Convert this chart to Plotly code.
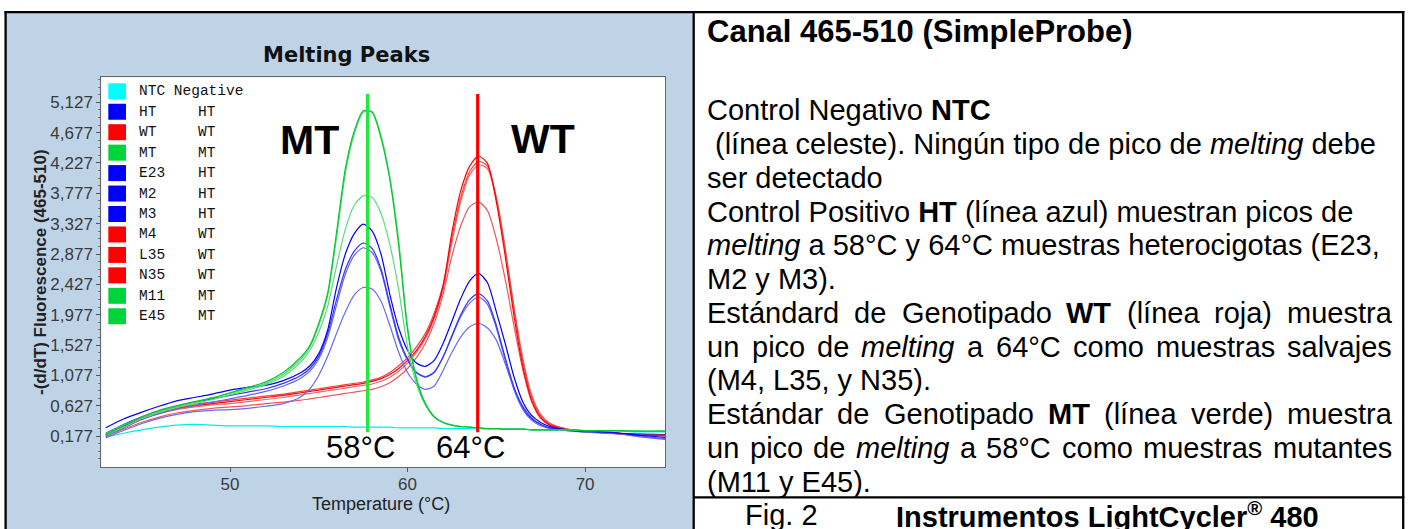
import plotly.graph_objects as go

W, H = 1408, 529

# ---------------- data ----------------
TEMPS = [43, 44, 45, 46, 47, 48, 49, 50, 51, 52, 53, 54, 54.5, 55, 55.5, 56, 56.5, 57, 57.5, 58,
         58.5, 59, 59.5, 60, 60.5, 61, 61.5, 62, 62.5, 63, 63.5, 64, 64.5, 65, 65.5, 66, 66.5, 67,
         67.5, 68, 69, 70, 71, 72, 73, 74.5]

NTC = [0.16, 0.22, 0.27, 0.31, 0.34, 0.35, 0.34, 0.33, 0.33, 0.33, 0.32, 0.32, 0.32, 0.32, 0.32, 0.32,
       0.32, 0.31, 0.31, 0.31, 0.31, 0.31, 0.30, 0.30, 0.30, 0.30, 0.30, 0.29, 0.29, 0.29, 0.29, 0.29,
       0.28, 0.28, 0.28, 0.28, 0.28, 0.27, 0.27, 0.27, 0.26, 0.26, 0.25, 0.25, 0.24, 0.24]
HT = [0.30, 0.43, 0.53, 0.62, 0.70, 0.75, 0.80, 0.86, 0.90, 0.93, 1.00, 1.12, 1.22, 1.40, 1.75, 2.38,
      2.88, 3.18, 3.32, 3.22, 2.88, 2.28, 1.78, 1.45, 1.26, 1.21, 1.30, 1.55, 1.88, 2.22, 2.48, 2.59,
      2.45, 2.02, 1.55, 1.05, 0.68, 0.48, 0.38, 0.32, 0.27, 0.25, 0.24, 0.22, 0.19, 0.16]
WT = [0.20, 0.32, 0.44, 0.53, 0.59, 0.63, 0.66, 0.69, 0.72, 0.75, 0.78, 0.82, 0.84, 0.86, 0.88, 0.90,
      0.92, 0.94, 0.96, 0.99, 1.03, 1.09, 1.18, 1.30, 1.45, 1.65, 1.95, 2.40, 3.20, 3.82, 4.18, 4.33,
      4.22, 3.65, 2.85, 1.95, 1.20, 0.70, 0.45, 0.34, 0.27, 0.24, 0.23, 0.22, 0.21, 0.20]
MT = [0.20, 0.33, 0.46, 0.56, 0.63, 0.69, 0.74, 0.82, 0.90, 0.98, 1.12, 1.35, 1.52, 1.85, 2.30, 3.20,
      4.15, 4.70, 5.00, 4.98, 4.60, 3.98, 3.00, 1.75, 1.02, 0.66, 0.46, 0.38, 0.34, 0.32, 0.31, 0.30,
      0.29, 0.29, 0.28, 0.28, 0.28, 0.27, 0.27, 0.27, 0.27, 0.26, 0.26, 0.26, 0.25, 0.25]
E23 = [0.22, 0.35, 0.46, 0.55, 0.62, 0.68, 0.73, 0.78, 0.83, 0.88, 0.96, 1.08, 1.18, 1.36, 1.70, 2.20,
       2.65, 2.92, 3.04, 2.96, 2.66, 2.14, 1.64, 1.32, 1.12, 1.05, 1.12, 1.35, 1.67, 1.98, 2.20, 2.29,
       2.18, 1.82, 1.34, 0.90, 0.60, 0.43, 0.35, 0.30, 0.27, 0.25, 0.24, 0.22, 0.20, 0.19]
M2 = [0.18, 0.30, 0.42, 0.51, 0.58, 0.63, 0.68, 0.73, 0.78, 0.84, 0.92, 1.04, 1.14, 1.32, 1.64, 2.12,
      2.58, 2.86, 2.97, 2.90, 2.62, 2.10, 1.60, 1.30, 1.12, 1.06, 1.13, 1.35, 1.65, 1.95, 2.15, 2.24,
      2.13, 1.78, 1.30, 0.86, 0.57, 0.41, 0.33, 0.29, 0.26, 0.24, 0.23, 0.21, 0.17, 0.13]
M3 = [0.15, 0.26, 0.36, 0.44, 0.50, 0.54, 0.56, 0.57, 0.59, 0.62, 0.66, 0.76, 0.88, 1.08, 1.36, 1.70,
      2.02, 2.27, 2.38, 2.36, 2.18, 1.82, 1.42, 1.12, 0.95, 0.87, 0.92, 1.15, 1.42, 1.65, 1.80, 1.85,
      1.78, 1.60, 1.25, 0.88, 0.62, 0.45, 0.35, 0.30, 0.26, 0.24, 0.23, 0.21, 0.18, 0.14]
M4 = [0.18, 0.30, 0.42, 0.52, 0.60, 0.65, 0.68, 0.71, 0.74, 0.77, 0.80, 0.84, 0.86, 0.88, 0.90, 0.92,
      0.94, 0.96, 0.98, 1.01, 1.05, 1.12, 1.22, 1.34, 1.50, 1.70, 2.00, 2.42, 3.12, 3.72, 4.10, 4.25,
      4.18, 3.72, 2.95, 2.05, 1.28, 0.75, 0.48, 0.36, 0.28, 0.25, 0.23, 0.21, 0.19, 0.18]
L35 = [0.19, 0.31, 0.43, 0.51, 0.57, 0.61, 0.64, 0.66, 0.69, 0.72, 0.75, 0.79, 0.81, 0.83, 0.85, 0.87,
       0.89, 0.91, 0.93, 0.95, 0.99, 1.05, 1.14, 1.26, 1.42, 1.62, 1.92, 2.35, 3.05, 3.66, 4.05, 4.20,
       4.14, 3.70, 2.95, 2.08, 1.32, 0.78, 0.50, 0.37, 0.28, 0.25, 0.23, 0.21, 0.20, 0.19]
N35 = [0.17, 0.28, 0.38, 0.46, 0.52, 0.56, 0.59, 0.61, 0.63, 0.66, 0.68, 0.71, 0.73, 0.75, 0.77, 0.79,
       0.81, 0.83, 0.85, 0.87, 0.91, 0.97, 1.06, 1.18, 1.34, 1.55, 1.85, 2.28, 2.85, 3.30, 3.58, 3.65,
       3.52, 3.10, 2.50, 1.80, 1.15, 0.68, 0.44, 0.34, 0.27, 0.24, 0.22, 0.21, 0.20, 0.19]
M11 = [0.21, 0.34, 0.45, 0.55, 0.62, 0.68, 0.75, 0.81, 0.88, 0.96, 1.09, 1.32, 1.50, 1.82, 2.26, 3.12,
       4.08, 4.66, 4.98, 4.99, 4.64, 4.02, 3.08, 1.80, 1.04, 0.66, 0.47, 0.38, 0.34, 0.32, 0.31, 0.30,
       0.29, 0.29, 0.28, 0.28, 0.28, 0.27, 0.27, 0.27, 0.27, 0.26, 0.26, 0.26, 0.25, 0.25]
E45 = [0.19, 0.31, 0.43, 0.53, 0.60, 0.66, 0.72, 0.79, 0.86, 0.94, 1.06, 1.28, 1.45, 1.72, 2.10, 2.70,
       3.25, 3.60, 3.74, 3.72, 3.48, 3.02, 2.35, 1.50, 0.95, 0.64, 0.46, 0.38, 0.34, 0.32, 0.31, 0.30,
       0.29, 0.29, 0.28, 0.28, 0.28, 0.27, 0.27, 0.27, 0.27, 0.26, 0.26, 0.25, 0.25, 0.25]

SAMPLE_NAMES = ["NTC", "HT", "WT", "MT", "E23", "M2", "M3", "M4", "L35", "N35", "M11", "E45"]
SAMPLE_GROUPS = ["Negative", "HT", "WT", "MT", "HT", "HT", "HT", "WT", "WT", "WT", "MT", "MT"]
SAMPLE_VALUES = [NTC, HT, WT, MT, E23, M2, M3, M4, L35, N35, M11, E45]

Y_TICKS = [0.177, 0.627, 1.077, 1.527, 1.977, 2.427, 2.877, 3.327, 3.777, 4.227, 4.677, 5.127]
Y_TICK_TEXT = ["0,177", "0,627", "1,077", "1,527", "1,977", "2,427", "2,877", "3,327", "3,777",
               "4,227", "4,677", "5,127"]
X_TICKS = [50, 60, 70]
PEAK_TEMPS = [57.75, 63.95]
PEAK_LABELS = ["58°C", "64°C"]
PEAK_GENOTYPES = ["MT", "WT"]

# ---------------- styles ----------------
LINE_COLORS = {"NTC": "#00EEEE", "HT": "#0000FF", "WT": "#FF0000", "MT": "#00C832",
               "E23": "#3434F4", "M2": "#6464F0", "M3": "#6A6AEE", "M4": "#F04444",
               "L35": "#F26464", "N35": "#F05858", "M11": "#50D870", "E45": "#5CDA7C"}
LEGEND_COLORS = {"Negative": "#00FFFF", "HT": "#0000FF", "WT": "#FF0000", "MT": "#00D43C"}
BLUE_BG = "#BFD3E6"


def px(x):
    return x / W


def py(y):
    return 1 - y / H


fig = go.Figure()

draw_order = ["NTC", "N35", "L35", "M4", "WT", "M3", "M2", "E23", "HT", "E45", "M11", "MT"]
for name in draw_order:
    i = SAMPLE_NAMES.index(name)
    fig.add_trace(go.Scatter(
        x=TEMPS, y=SAMPLE_VALUES[i], mode="lines", name=name,
        line=dict(color=LINE_COLORS[name], width=1.2, shape="spline", smoothing=0.7),
        hoverinfo="skip"))

shapes = []
# blue left panel
shapes.append(dict(type="rect", xref="paper", yref="paper", x0=px(5), x1=px(693.7),
                   y0=py(529), y1=py(12.2), fillcolor=BLUE_BG, line=dict(width=0), layer="below"))
# white plot area
shapes.append(dict(type="rect", xref="paper", yref="paper", x0=px(101.3), x1=px(665),
                   y0=py(467.3), y1=py(77.3), fillcolor="white", line=dict(width=0), layer="below"))
# black frame lines
frame = [(4.5, 12.2, 1404.3, 12.2), (5.6, 11.2, 5.6, 529), (1403.2, 11.2, 1403.2, 529),
         (693.7, 11.2, 693.7, 529), (693.7, 497.3, 1404.3, 497.3)]
for x0, y0, x1, y1 in frame:
    shapes.append(dict(type="line", xref="paper", yref="paper", x0=px(x0), y0=py(y0),
                       x1=px(x1), y1=py(y1), line=dict(color="black", width=2.3)))
# vertical peak markers
marker_colors = {"MT": "#22E83A", "WT": "#FF0000"}
for t, g in zip(PEAK_TEMPS, PEAK_GENOTYPES):
    shapes.append(dict(type="line", xref="x", yref="y", x0=t, x1=t, y0=0.233, y1=5.25,
                       line=dict(color=marker_colors[g], width=3.2), layer="above"))

ann = []
ann.append(dict(text="<b>Melting Peaks</b>", x=px(346), y=py(55), xref="paper", yref="paper",
                showarrow=False, xanchor="center", yanchor="middle",
                font=dict(family="DejaVu Sans", size=21, color="#111")))
ann.append(dict(text="<b>-(d/dT) Fluorescence (465-510)</b>", x=px(40), y=py(272), xref="paper",
                yref="paper", showarrow=False, textangle=-90, xanchor="center", yanchor="middle",
                font=dict(family="Liberation Sans", size=17, color="#222")))
ann.append(dict(text="Temperature (°C)", x=px(381), y=py(504), xref="paper", yref="paper",
                showarrow=False, xanchor="center", yanchor="middle",
                font=dict(family="Liberation Sans", size=18, color="#222")))

# legend (colored squares + monospace labels)
for k, (name, grp) in enumerate(zip(SAMPLE_NAMES, SAMPLE_GROUPS)):
    yc = 91.3 + 20.45 * k
    shapes.append(dict(type="rect", xref="paper", yref="paper", x0=px(108.3), x1=px(126),
                       y0=py(yc + 8), y1=py(yc - 8), fillcolor=LEGEND_COLORS[grp],
                       line=dict(width=0)))
    if grp == "Negative":
        ann.append(dict(text=name + " " + grp, x=px(138), y=py(yc), xref="paper", yref="paper",
                        showarrow=False, xanchor="left", yanchor="middle", borderpad=0,
                        font=dict(family="Liberation Mono", size=14.5, color="#111")))
    else:
        for txt, xx in ((name, 138), (grp, 197)):
            ann.append(dict(text=txt, x=px(xx), y=py(yc), xref="paper", yref="paper",
                            showarrow=False, xanchor="left", yanchor="middle", borderpad=0,
                            font=dict(family="Liberation Mono", size=14.5, color="#111")))

# big labels
ann.append(dict(text="<b>MT</b>", x=px(309), y=py(140), xref="paper", yref="paper", showarrow=False,
                xanchor="center", yanchor="middle", font=dict(family="Liberation Sans", size=41, color="black")))
ann.append(dict(text="<b>WT</b>", x=px(542.5), y=py(139.5), xref="paper", yref="paper", showarrow=False,
                xanchor="center", yanchor="middle", font=dict(family="Liberation Sans", size=41, color="black")))
for t, lab in zip(PEAK_TEMPS, PEAK_LABELS):
    ann.append(dict(text=lab, x=t, y=py(447.5), xref="x", yref="paper", xshift=-7, showarrow=False,
                    xanchor="center", yanchor="middle",
                    font=dict(family="Liberation Sans", size=31, color="black")))

# ---------------- right text panel ----------------
AR = {' ': 278, '(': 333, ')': 333, ',': 278, '-': 333, '.': 278, '°': 400, '®': 737,
      'A': 667, 'B': 667, 'C': 722, 'D': 722, 'E': 667, 'F': 611, 'G': 778, 'H': 722, 'I': 278,
      'L': 556, 'M': 833, 'N': 722, 'P': 667, 'S': 667, 'T': 611, 'W': 944,
      'a': 556, 'b': 556, 'c': 500, 'd': 556, 'e': 556, 'f': 278, 'g': 556, 'h': 556, 'i': 222,
      'j': 222, 'k': 500, 'l': 222, 'm': 833, 'n': 556, 'o': 556, 'p': 556, 'q': 556, 'r': 333,
      's': 500, 't': 278, 'u': 556, 'v': 500, 'w': 722, 'x': 500, 'y': 500, 'z': 500,
      'á': 556, 'é': 556, 'í': 278, 'ó': 556, 'ú': 556}


def tw(s, size):
    return sum(AR.get(c, 556) for c in s) * size / 1000.0


FS = 29
LEFT, RIGHT = 706, 1391
TEXT_FONT = dict(family="Liberation Sans", size=FS, color="black")

ann.append(dict(text="<b>Canal 465-510 (SimpleProbe)</b>", x=px(LEFT), y=py(31.7), xref="paper",
                yref="paper", showarrow=False, xanchor="left", yanchor="middle", borderpad=0,
                font=dict(family="Liberation Sans", size=31, color="black")))

# (words, justified?, indent)
LINES = [
    ([("Control", None), ("Negativo", None), ("NTC", "b")], False, 0),
    ([("(línea", None), ("celeste).", None), ("Ningún", None), ("tipo", None), ("de", None),
      ("pico", None), ("de", None), ("melting", "i"), ("debe", None)], False, 8),
    ([("ser", None), ("detectado", None)], False, 0),
    ([("Control", None), ("Positivo", None), ("HT", "b"), ("(línea", None), ("azul)", None),
      ("muestran", None), ("picos", None), ("de", None)], False, 0),
    ([("melting", "i"), ("a", None), ("58°C", None), ("y", None), ("64°C", None), ("muestras", None),
      ("heterocigotas", None), ("(E23,", None)], False, 0),
    ([("M2", None), ("y", None), ("M3).", None)], False, 0),
    ([("Estándard", None), ("de", None), ("Genotipado", None), ("WT", "b"), ("(línea", None),
      ("roja)", None), ("muestra", None)], True, 0),
    ([("un", None), ("pico", None), ("de", None), ("melting", "i"), ("a", None), ("64°C", None),
      ("como", None), ("muestras", None), ("salvajes", None)], True, 0),
    ([("(M4,", None), ("L35,", None), ("y", None), ("N35).", None)], False, 0),
    ([("Estándar", None), ("de", None), ("Genotipado", None), ("MT", "b"), ("(línea", None),
      ("verde)", None), ("muestra", None)], True, 0),
    ([("un", None), ("pico", None), ("de", None), ("melting", "i"), ("a", None), ("58°C", None),
      ("como", None), ("muestras", None), ("mutantes", None)], True, 0),
    ([("(M11", None), ("y", None), ("E45).", None)], False, 0),
]


def markup(word, style):
    if style == "b":
        return "<b>" + word + "</b>"
    if style == "i":
        return "<i>" + word + "</i>"
    return word


for n, (words, justified, indent) in enumerate(LINES):
    yc = 110.3 + 33.75 * n
    if justified:
        widths = [tw(w, FS) for w, _ in words]
        gap = (RIGHT - LEFT - sum(widths)) / (len(words) - 1)
        x = LEFT
        for (w, st), wd in zip(words, widths):
            ann.append(dict(text=markup(w, st), x=px(x), y=py(yc), xref="paper", yref="paper",
                            showarrow=False, xanchor="left", yanchor="middle", borderpad=0,
                            font=TEXT_FONT))
            x += wd + gap
    else:
        txt = " ".join(markup(w, st) for w, st in words)
        ann.append(dict(text=txt, x=px(LEFT + indent), y=py(yc), xref="paper", yref="paper",
                        showarrow=False, xanchor="left", yanchor="middle", borderpad=0,
                        font=TEXT_FONT))

ann.append(dict(text="Fig. 2", x=px(744), y=py(515), xref="paper", yref="paper", showarrow=False,
                xanchor="left", yanchor="middle", borderpad=0, font=TEXT_FONT))
ann.append(dict(text="<b>Instrumentos LightCycler<sup>®</sup> 480</b>", x=px(895), y=py(515),
                xref="paper", yref="paper", showarrow=False, xanchor="left", yanchor="middle",
                borderpad=0, font=TEXT_FONT))

minor_vals = []
step = (Y_TICKS[1] - Y_TICKS[0]) / 4
for v in Y_TICKS:
    for k in range(-3, 4):
        mv = round(v + k * step, 4)
        if -0.28 < mv < 5.49 and mv not in minor_vals:
            minor_vals.append(mv)

AXIS_FONT = dict(family="Liberation Sans", size=17, color="#3a3a3a")
fig.update_layout(
    width=W, height=H, margin=dict(l=0, r=0, t=0, b=0, pad=0),
    paper_bgcolor="white", plot_bgcolor="rgba(0,0,0,0)", showlegend=False,
    shapes=shapes, annotations=ann,
    xaxis=dict(domain=[px(101.3), px(665)], range=[42.75, 74.5], tickmode="array",
               tickvals=X_TICKS, ticks="outside", ticklen=4, tickcolor="#555", showline=True,
               mirror=True, linecolor="#666", linewidth=1, showgrid=False, zeroline=False,
               tickfont=AXIS_FONT, ticklabelstandoff=-3),
    yaxis=dict(domain=[py(467.3), py(77.3)], range=[-0.285, 5.497], tickmode="array",
               tickvals=Y_TICKS, ticktext=Y_TICK_TEXT, ticks="outside", ticklen=4,
               tickcolor="#555", showline=True, mirror=True, linecolor="#666", linewidth=1,
               showgrid=False, zeroline=False, tickfont=AXIS_FONT,
               minor=dict(tickmode="array", tickvals=minor_vals, ticks="outside", ticklen=2,
                          tickcolor="#777", showgrid=False)),
)

fig.write_html(
    "out.html",
    config={"displayModeBar": False},
    post_script="document.body.style.margin='0';document.body.style.padding='0';"
                "document.documentElement.style.overflow='hidden';",
)
